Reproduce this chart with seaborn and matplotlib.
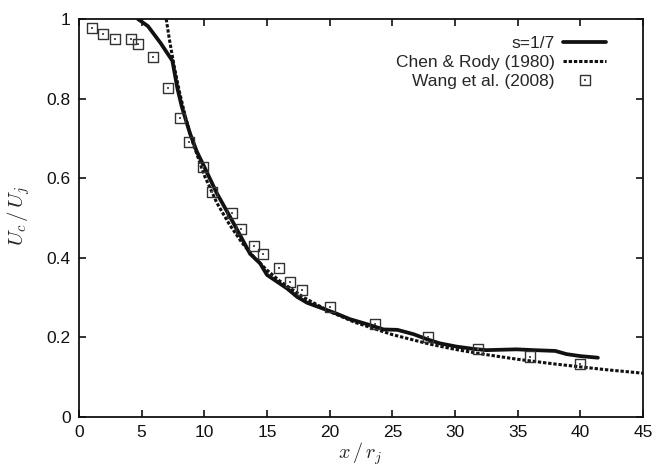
import matplotlib
matplotlib.use("Agg")
import matplotlib.pyplot as plt
import seaborn as sns
import pandas as pd
from matplotlib.lines import Line2D
from matplotlib.ticker import FuncFormatter

# ---- data ----
sim_x = [4.7, 5.5, 6.5, 7.45, 7.85, 8.2, 8.85, 9.4, 10.05, 11.0, 12.05, 12.85,
         13.65, 14.45, 15.0, 15.8, 16.6, 17.4, 18.2, 19.5, 20.6, 21.6, 23.0,
         24.3, 25.4, 26.7, 27.8, 28.8, 30.1, 31.5, 32.5, 34.9, 36.3, 38.0,
         38.9, 40.0, 41.4]
sim_y = [1.0, 0.982, 0.94, 0.895, 0.826, 0.78, 0.713, 0.667, 0.625, 0.562,
         0.503, 0.457, 0.410, 0.386, 0.357, 0.340, 0.323, 0.302, 0.287, 0.272,
         0.259, 0.246, 0.233, 0.220, 0.219, 0.208, 0.195, 0.185, 0.177, 0.171,
         0.168, 0.170, 0.168, 0.166, 0.158, 0.153, 0.149]

chen_x = [6.96, 7.2, 7.6, 8.0, 8.5, 9.0, 10.0, 11.0, 12.0, 13.0, 14.0, 15.0,
          16.0, 18.0, 20.0, 22.0, 25.0, 28.0, 30.0, 32.0, 35.0, 38.0, 40.0,
          42.0, 45.0]
chen_y = [1.0, 0.951, 0.880, 0.819, 0.753, 0.697, 0.607, 0.538, 0.484, 0.438,
          0.400, 0.369, 0.342, 0.299, 0.265, 0.238, 0.207, 0.183, 0.170, 0.159,
          0.145, 0.133, 0.126, 0.119, 0.110]

wang_x = [1.06, 1.94, 2.90, 4.13, 4.73, 5.93, 7.08, 8.04, 8.78, 9.92, 10.59,
          12.19, 12.93, 13.94, 14.68, 15.96, 16.82, 17.80, 20.01, 23.62, 27.83,
          31.82, 35.99, 39.98]
wang_y = [0.977, 0.962, 0.949, 0.949, 0.936, 0.904, 0.827, 0.751, 0.692, 0.629,
          0.565, 0.513, 0.472, 0.430, 0.410, 0.375, 0.339, 0.318, 0.277, 0.233,
          0.202, 0.171, 0.152, 0.132]

labels = ["s=1/7", "Chen & Rody (1980)", "Wang et al. (2008)"]
x_ticks = [0, 5, 10, 15, 20, 25, 30, 35, 40, 45]
y_ticks = [0, 0.2, 0.4, 0.6, 0.8, 1.0]

sim = pd.DataFrame({"x": sim_x, "y": sim_y})
chen = pd.DataFrame({"x": chen_x, "y": chen_y})
wang = pd.DataFrame({"x": wang_x, "y": wang_y})

sns.set_theme(style="ticks")
plt.rcParams["font.family"] = ["Liberation Sans", "DejaVu Sans"]
plt.rcParams["mathtext.fontset"] = "cm"

fig = plt.figure(figsize=(6.7, 4.68), dpi=100)
ax = fig.add_axes([79 / 670, 1 - 417 / 468, (643 - 79) / 670, (417 - 19) / 468])

line_col = "#111111"
sns.lineplot(data=sim, x="x", y="y", ax=ax, color=line_col, lw=2.7,
             sort=False, estimator=None)
sns.lineplot(data=chen, x="x", y="y", ax=ax, color=line_col, lw=2.2,
             sort=False, estimator=None, linestyle=(0, (1.1, 0.6)))
sns.scatterplot(data=wang, x="x", y="y", ax=ax, marker="s", s=52,
                facecolor="none", edgecolor="#333333", linewidth=1.0, zorder=3)
sns.scatterplot(data=wang, x="x", y="y", ax=ax, marker="s", s=2.5,
                color="#555555", linewidth=0, zorder=4)

ax.set_xlim(0, 45)
ax.set_ylim(0, 1)
ax.set_xticks(x_ticks)
ax.set_yticks(y_ticks)
ax.yaxis.set_major_formatter(FuncFormatter(lambda v, p: f"{v:g}"))
ax.tick_params(direction="in", top=True, right=True, length=5, width=1.2,
               labelsize=12.5, pad=6, colors="#111111")
for s in ax.spines.values():
    s.set_linewidth(1.3)
    s.set_color("#111111")

ax.set_xlabel("$x\\,/\\,r_j$", fontsize=14.5)
ax.set_ylabel("$U_c\\,/\\,U_j$", fontsize=15)
ax.xaxis.set_label_coords(0.498, -0.058)
ax.yaxis.set_label_coords(-0.083, 0.505)

h1 = Line2D([], [], color=line_col, lw=2.7)
h2 = Line2D([], [], color=line_col, lw=2.2, linestyle=(0, (1.1, 0.6)))
h3a = Line2D([], [], marker="s", markersize=7.2, markerfacecolor="none",
             markeredgecolor="#333333", markeredgewidth=1.0, linestyle="none")
h3b = Line2D([], [], marker="s", markersize=1.6, markerfacecolor="#555555",
             markeredgewidth=0, linestyle="none")
ax.legend([h1, h2, (h3a, h3b)], labels, loc="upper right",
          bbox_to_anchor=(606 / 670, 1 - 36 / 468), bbox_transform=fig.transFigure,
          frameon=False, markerfirst=False, handlelength=2.45, fontsize=12.5,
          labelspacing=0.22, borderpad=0, borderaxespad=0, handletextpad=0.5)

fig.savefig("out.png", dpi=100)
